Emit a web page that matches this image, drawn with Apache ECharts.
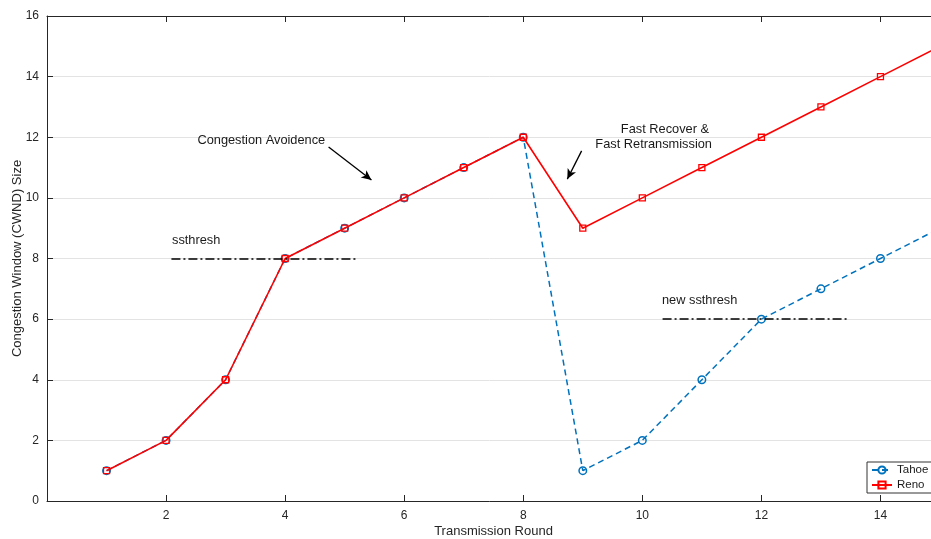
<!DOCTYPE html>
<html><head><meta charset="utf-8">
<script src="https://cdn.jsdelivr.net/npm/echarts@6/dist/echarts.min.js"></script>
<style>html,body{margin:0;padding:0;background:#fff}#c{width:931px;height:539px}</style>
</head><body><div id="c"></div>
<script>
const rounds = [1,2,3,4,5,6,7,8,9,10,11,12,13,14,15];
const tahoe  = [1,2,4,8,9,10,11,12,1,2,4,6,7,8,9];
const reno   = [1,2,4,8,9,10,11,12,9,10,11,12,13,14,15];
const xTicks = [2,4,6,8,10,12,14];
const yTicks = [0,2,4,6,8,10,12,14,16];

const F = 'Liberation Sans, Arial, sans-serif';
const txt = '#262626';
const chart = echarts.init(document.getElementById('c'), null, {renderer:'canvas'});

function pairs(xs, ys){ return xs.map((x,i)=>[x, ys[i]]); }
function label(x, y, text, align){
  return {coord:[x,y], symbol:'circle', symbolSize:1, value:text,
    itemStyle:{color:'rgba(0,0,0,0)'},
    label:{show:true, formatter:text, position:'inside', color:'#1a1a1a', fontSize:12.8, fontFamily:F, align:align||'left', verticalAlign:'middle'}};
}
const dashDot = [9,3,2,3];
const solidArrow = {type:'solid', width:1.3, color:'#000'};

chart.setOption({
  animation:false,
  grid:{left:47, top:16, width:893, height:485, containLabel:false, outerBoundsMode:'none'},
  xAxis:[{
    type:'value', min:0, max:15, interval:2,
    name:'Transmission Round', nameLocation:'middle', nameGap:24, nameMoveOverlap:false,
    nameTextStyle:{fontSize:13, color:txt, fontFamily:F},
    axisLine:{lineStyle:{color:'#262626', width:1}},
    axisTick:{inside:true, length:6, lineStyle:{color:'#262626'}},
    axisLabel:{color:txt, fontSize:12, fontFamily:F, margin:9,
      formatter:v=> xTicks.includes(v) ? String(v) : ''},
    splitLine:{show:false}
  },{
    type:'value', min:0, max:15, interval:2, position:'top',
    axisLine:{show:true, onZero:false, lineStyle:{color:'#262626', width:1}},
    axisTick:{show:true, inside:true, length:6, lineStyle:{color:'#262626'}},
    axisLabel:{show:false}, splitLine:{show:false}
  }],
  yAxis:[{
    type:'value', min:0, max:16, interval:2,
    name:'Congestion Window (CWND) Size', nameLocation:'middle', nameGap:23, nameRotate:90, nameMoveOverlap:false,
    nameTextStyle:{fontSize:13, color:txt, fontFamily:F},
    axisLine:{show:true, lineStyle:{color:'#262626', width:1}},
    axisTick:{show:true, inside:true, length:6, lineStyle:{color:'#262626'}},
    axisLabel:{color:txt, fontSize:12, fontFamily:F, margin:8,
      formatter:v=> yTicks.includes(v) ? String(v) : ''},
    splitLine:{show:true, lineStyle:{color:'#e3e3e3', width:1}}
  }],
  legend:{
    orient:'vertical', left:867, top:462, padding:[2,6,2,4], itemGap:3,
    itemWidth:20, itemHeight:9, borderColor:'#333', borderWidth:1, backgroundColor:'#fff',
    textStyle:{fontSize:11.5, color:'#1a1a1a', fontFamily:F},
    data:['Tahoe','Reno']
  },
  series:[
    {name:'Tahoe', type:'line', data:pairs(rounds,tahoe), symbol:'circle', symbolSize:7.5,
     showAllSymbol:true,
     lineStyle:{color:'#0072BD', width:1.5, type:[6,4]},
     itemStyle:{color:'rgba(255,255,255,0)', borderColor:'#0072BD', borderWidth:1.5},
     z:2},
    {name:'Reno', type:'line', data:pairs(rounds,reno), symbol:'rect', symbolSize:6,
     showAllSymbol:true,
     lineStyle:{color:'#ff0000', width:1.6},
     itemStyle:{color:'rgba(255,255,255,0)', borderColor:'#ff0000', borderWidth:1.3},
     z:3},
    {name:'notes', type:'line', data:[], silent:true, z:4,
     markLine:{silent:true, animation:false, label:{show:false},
       data:[
        [{coord:[2.09,8], symbol:'none'},{coord:[5.2,8], symbol:'none'}],
        [{coord:[10.34,6], symbol:'none'},{coord:[13.48,6], symbol:'none'}],
        [{coord:[4.73,11.68], symbol:'none', lineStyle:solidArrow},{coord:[5.45,10.59], symbol:'arrow', symbolSize:[7,10]}],
        [{coord:[8.98,11.55], symbol:'none', lineStyle:solidArrow},{coord:[8.74,10.62], symbol:'arrow', symbolSize:[7,10]}]
       ],
       lineStyle:{color:'#000', width:1.5, type:dashDot}
     },
     markPoint:{silent:true, animation:false,
       data:[
        label(2.1, 8.6, 'ssthresh'),
        label(10.33, 6.6, 'new ssthresh'),
        label(3.6, 11.9, 'Congestion Avoidence', 'center'),
        label(10.38, 12.25, 'Fast Recover &', 'center'),
        label(10.19, 11.75, 'Fast Retransmission', 'center')
       ]}
    }
  ]
});
</script></body></html>
